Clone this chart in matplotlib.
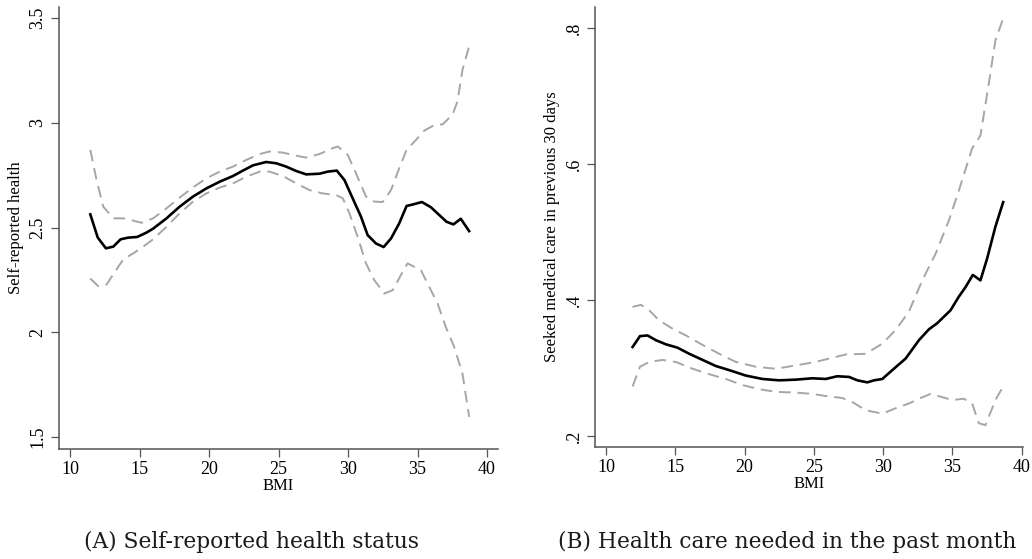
import numpy as np
import matplotlib
matplotlib.use("Agg")
import matplotlib.pyplot as plt

# Panel A: self-reported health vs BMI (local polynomial fit with 95% CI)
bmi_a = [11.46, 11.99, 12.58, 13.11, 13.64, 14.19, 14.83, 15.50, 15.98, 16.94,
         17.89, 18.85, 19.81, 20.77, 21.72, 22.44, 23.16, 24.11, 24.83, 25.55,
         26.27, 26.99, 27.94, 28.54, 29.19, 29.74, 30.33, 30.93, 31.41, 32.01,
         32.56, 33.09, 33.68, 34.21, 34.76, 35.31, 35.96, 36.56, 37.08, 37.58,
         38.11, 38.71]
health_fit = [2.563, 2.453, 2.401, 2.409, 2.444, 2.452, 2.455, 2.476, 2.495, 2.544,
              2.600, 2.648, 2.687, 2.719, 2.746, 2.772, 2.797, 2.813, 2.807, 2.791,
              2.770, 2.754, 2.757, 2.767, 2.772, 2.727, 2.640, 2.552, 2.464, 2.424,
              2.407, 2.448, 2.520, 2.603, 2.612, 2.622, 2.597, 2.560, 2.528, 2.515,
              2.542, 2.483]

bmi_a_hi = [11.46, 11.91, 12.39, 13.11, 13.83, 14.55, 15.14, 15.98, 16.94, 17.89,
            18.85, 19.81, 20.77, 21.72, 22.68, 23.64, 24.35, 25.31, 26.27, 26.99,
            27.94, 28.90, 29.26, 29.98, 30.57, 31.29, 31.89, 32.49, 33.09, 33.68,
            34.21, 34.88, 35.48, 36.20, 36.80, 37.51, 37.87, 38.23, 38.71]
health_hi = [2.871, 2.727, 2.600, 2.544, 2.544, 2.533, 2.523, 2.544, 2.592, 2.643,
             2.692, 2.735, 2.767, 2.791, 2.823, 2.851, 2.863, 2.858, 2.843, 2.834,
             2.851, 2.879, 2.887, 2.847, 2.759, 2.648, 2.624, 2.622, 2.679, 2.783,
             2.871, 2.918, 2.963, 2.989, 2.993, 3.038, 3.102, 3.253, 3.365]

bmi_a_lo = [11.46, 12.03, 12.63, 13.23, 13.83, 14.55, 15.26, 15.98, 16.94, 17.89,
            18.85, 19.81, 20.77, 21.72, 22.68, 23.64, 24.35, 25.31, 26.27, 27.22,
            28.18, 29.14, 29.62, 30.10, 30.69, 31.29, 31.89, 32.61, 33.21, 33.80,
            34.28, 35.24, 35.84, 36.44, 37.03, 37.63, 38.23, 38.71]
health_lo = [2.257, 2.220, 2.228, 2.289, 2.348, 2.377, 2.409, 2.444, 2.504, 2.568,
             2.624, 2.663, 2.691, 2.711, 2.743, 2.767, 2.767, 2.746, 2.711, 2.679,
             2.663, 2.655, 2.640, 2.568, 2.456, 2.329, 2.249, 2.185, 2.201, 2.273,
             2.329, 2.297, 2.217, 2.138, 2.026, 1.931, 1.803, 1.596]

# Panel B: share that sought medical care in the last 30 days vs BMI
bmi_b = [11.92, 12.45, 13.00, 13.60, 14.32, 15.16, 16.01, 16.97, 17.93, 18.89,
         20.09, 21.29, 22.49, 23.69, 24.89, 25.85, 26.69, 27.54, 28.14, 28.86,
         29.34, 29.94, 30.66, 31.62, 32.58, 33.30, 33.90, 34.86, 35.46, 35.94,
         36.47, 37.02, 37.50, 38.10, 38.66]
care_fit = [0.331, 0.347, 0.348, 0.341, 0.335, 0.330, 0.321, 0.312, 0.303, 0.297,
            0.289, 0.284, 0.282, 0.283, 0.285, 0.284, 0.288, 0.287, 0.282, 0.279,
            0.282, 0.284, 0.297, 0.314, 0.341, 0.357, 0.366, 0.385, 0.405, 0.419,
            0.437, 0.429, 0.461, 0.508, 0.544]

bmi_b_hi = [11.92, 12.52, 13.12, 13.84, 14.80, 15.77, 16.97, 18.17, 19.37, 20.81,
            22.25, 23.69, 25.13, 26.09, 27.30, 28.74, 29.94, 30.90, 31.86, 32.82,
            33.78, 34.74, 35.46, 36.42, 37.02, 37.62, 38.10, 38.66]
care_hi = [0.390, 0.393, 0.385, 0.370, 0.358, 0.348, 0.334, 0.321, 0.309, 0.302,
           0.299, 0.304, 0.309, 0.314, 0.320, 0.321, 0.336, 0.356, 0.383, 0.429,
           0.468, 0.517, 0.561, 0.623, 0.642, 0.718, 0.782, 0.814]

bmi_b_lo = [11.92, 12.45, 13.12, 14.08, 15.04, 16.25, 17.45, 18.65, 19.85, 21.05,
            22.25, 23.69, 24.89, 25.85, 27.05, 27.78, 28.74, 29.94, 30.90, 31.86,
            32.70, 33.42, 34.14, 34.98, 35.82, 36.42, 36.90, 37.38, 38.10, 38.66]
care_lo = [0.273, 0.302, 0.309, 0.312, 0.309, 0.299, 0.291, 0.284, 0.275, 0.269,
           0.265, 0.264, 0.262, 0.259, 0.256, 0.250, 0.238, 0.233, 0.241, 0.248,
           0.256, 0.262, 0.258, 0.253, 0.255, 0.248, 0.219, 0.216, 0.253, 0.273]

x_ticks = [10, 15, 20, 25, 30, 35, 40]
ticks_a = [1.5, 2, 2.5, 3, 3.5]
labels_a = ["1.5", "2", "2.5", "3", "3.5"]
ticks_b = [0.2, 0.4, 0.6, 0.8]
labels_b = [".2", ".4", ".6", ".8"]

plt.rcParams['font.family'] = ['Liberation Serif', 'DejaVu Serif']

fig = plt.figure(figsize=(10.32, 5.59), dpi=100)
ax_a = fig.add_axes([0.0572, 0.1968, 0.4254, 0.7907])
ax_b = fig.add_axes([0.5766, 0.2004, 0.4144, 0.7871])

dash_kw = dict(color='#a6a6a6', lw=1.4, ls=(0, (6, 3.5)))
fit_kw = dict(color='black', lw=1.9)


def style_axes(ax, yticks, ylabels, ylabel):
    for side in ['top', 'right']:
        ax.spines[side].set_visible(False)
    for side in ['left', 'bottom']:
        ax.spines[side].set_color('#555555')
        ax.spines[side].set_linewidth(1.1)
    ax.set_xticks(x_ticks)
    ax.set_yticks(yticks)
    ax.set_yticklabels(ylabels, rotation=90, va='center')
    ax.tick_params(axis='both', length=6, width=0.9, color='#555555',
                   labelsize=13, pad=3)
    ax.set_xlabel("BMI", fontsize=12, labelpad=0)
    ax.set_ylabel(ylabel, fontsize=12, labelpad=4)


ax_a.plot(bmi_a_hi, health_hi, **dash_kw)
ax_a.plot(bmi_a_lo, health_lo, **dash_kw)
ax_a.plot(bmi_a, health_fit, **fit_kw)
ax_a.set_xlim(9.21, 40.79)
ax_a.set_ylim(1.443, 3.553)
style_axes(ax_a, ticks_a, labels_a, "Self-reported health")

ax_b.plot(bmi_b_hi, care_hi, **dash_kw)
ax_b.plot(bmi_b_lo, care_lo, **dash_kw)
ax_b.plot(bmi_b, care_fit, **fit_kw)
ax_b.set_xlim(9.21, 40.07)
ax_b.set_ylim(0.184, 0.831)
style_axes(ax_b, ticks_b, labels_b, "Seeked medical care in previous 30 days")

# panel captions underneath
cap_kw = dict(fontsize=15.7, family='DejaVu Serif', color='#1a1a1a',
              ha='center', va='baseline')
fig.text(0.2437, 0.019, "(A) Self-reported health status", **cap_kw)
fig.text(0.7631, 0.019, "(B) Health care needed in the past month", **cap_kw)

fig.savefig("out.png", dpi=100)
